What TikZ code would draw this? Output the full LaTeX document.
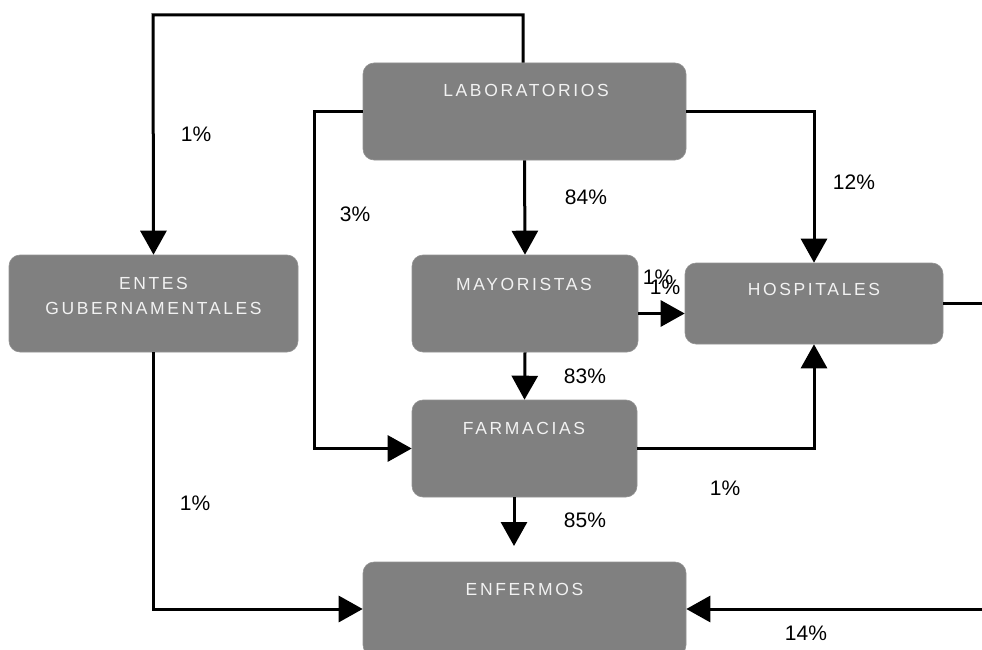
\documentclass[tikz,border=0pt]{standalone}
\usepackage{fontspec}
\setmainfont{Liberation Sans}
\newfontfamily\boxfont[LetterSpace=15]{Liberation Sans}
\usetikzlibrary{arrows.meta}
\definecolor{boxgray}{HTML}{808080}
\definecolor{boxtextcol}{HTML}{F2F2F2}
\begin{document}
\begin{tikzpicture}[x=1pt,y=-1pt,
  box/.style={fill=boxgray, draw=boxgray!85!white, line width=0.6pt, rounded corners=11pt, inner sep=0pt},
  boxlabel/.style={text=boxtextcol, font=\boxfont\fontsize{17.5}{25}\selectfont, align=center, inner sep=0pt},
  pct/.style={font=\fontsize{21}{24}\selectfont, inner sep=0pt},
  link/.style={line width=3pt, line join=miter},
  flow/.style={link, -{Triangle[length=24pt,width=26pt]}}]
\path[use as bounding box, clip] (0,0) rectangle (982,650);

% boxes
\node[box, minimum width=323pt, minimum height=97pt] (lab)   at (524.5,111.5) {};
\node[box, minimum width=289pt, minimum height=97pt] (entes) at (153.5,303.5) {};
\node[box, minimum width=226pt, minimum height=97pt] (may)   at (525,303.5)   {};
\node[box, minimum width=258pt, minimum height=81pt] (hosp)  at (814,303.5)   {};
\node[box, minimum width=225pt, minimum height=97pt] (farm)  at (524.5,448.5) {};
\node[box, minimum width=323pt, minimum height=94pt] (enf)   at (524.5,609)   {};

% box titles
\node[boxlabel] (labT)   at (526,90.5)  {LABORATORIOS};
\node[boxlabel] (entesT) at (153.5,296) {ENTES\\GUBERNAMENTALES};
\node[boxlabel] (mayT)   at (524,284)   {MAYORISTAS};
\node[boxlabel] (hospT)  at (814,289)   {HOSPITALES};
\node[boxlabel] (farmT)  at (524,428)   {FARMACIAS};
\node[boxlabel] (enfT)   at (524.5,589.5) {ENFERMOS};

% routing points
\coordinate (topR) at (523,15);
\coordinate (topL) at (153,15);
\coordinate (leftRail) at (314,0);
\coordinate (farmOut) at (514,546);
\coordinate (hospOut) at (982,303.5);
\coordinate (enfIn) at (982,609);

% connectors
\draw[flow] (lab.north -| topR) -- (topR) -- (topL) -- (entes.north);
\draw[flow] (lab.west) -- (lab.west -| leftRail) |- (farm.west);
\draw[flow] (lab.south) -- (may.north);
\draw[flow] (lab.east) -| (hosp.north);
\draw[flow] ([yshift=-10pt]may.east) -- ([yshift=-10pt]hosp.west);
\draw[flow] (may.south) -- (farm.north);
\draw[flow] (farm.east) -| (hosp.south);
\draw[flow] (farm.south -| farmOut) -- (farmOut);
\draw[flow] (entes.south) |- (enf.west);
\draw[link] (hosp.east) -- (hospOut);
\draw[flow] (enfIn) -- (enf.east);

% shares
\node[pct] (p1)  at (196,134) {1\%};
\node[pct] (p2)  at (355,214) {3\%};
\node[pct] (p3)  at (586,197) {84\%};
\node[pct] (p4)  at (854,182) {12\%};
\node[pct] (p5)  at (658,277) {1\%};
\node[pct] (p6)  at (665,287) {1\%};
\node[pct] (p7)  at (585,376) {83\%};
\node[pct] (p8)  at (725,488) {1\%};
\node[pct] (p9)  at (585,520) {85\%};
\node[pct] (p10) at (195,503) {1\%};
\node[pct] (p11) at (806,633) {14\%};
\end{tikzpicture}
\end{document}
